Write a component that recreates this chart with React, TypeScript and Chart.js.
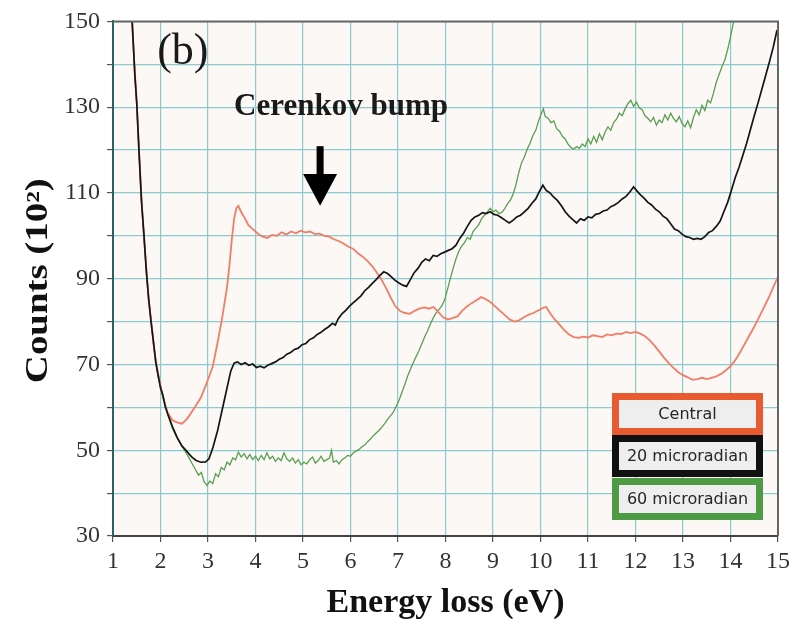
import React, { useEffect, useRef } from "react";
import { Chart, registerables } from "chart.js";

Chart.register(...registerables);

// ---------------- data ----------------
const seriesLabels = ["Central", "20 microradian", "60 microradian"];

const centralE = [
  1.38, 1.42, 1.46, 1.5, 1.55, 1.6, 1.65, 1.7, 1.75, 1.8, 1.85, 1.9, 1.95, 2.0, 2.05, 2.1, 2.15,
  2.25, 2.35, 2.45, 2.55, 2.65, 2.75, 2.85, 2.95, 3.05, 3.1, 3.2, 3.3, 3.4, 3.45, 3.5, 3.55, 3.6, 3.64,
  3.7, 3.78, 3.85, 3.95, 4.05, 4.15, 4.25, 4.35, 4.45, 4.55, 4.65, 4.75, 4.85, 4.95, 5.05, 5.15, 5.25,
  5.35, 5.45, 5.55, 5.65, 5.75, 5.85, 5.95, 6.05, 6.15, 6.25, 6.35, 6.45, 6.55, 6.65, 6.75, 6.85, 6.95,
  7.05, 7.15, 7.25, 7.35, 7.45, 7.55, 7.65, 7.75, 7.85, 7.95, 8.05, 8.15, 8.25, 8.35, 8.45, 8.55, 8.65,
  8.75, 8.85, 8.95, 9.05, 9.15, 9.25, 9.35, 9.45, 9.55, 9.65, 9.75, 9.85, 9.95, 10.05, 10.12, 10.2, 10.3,
  10.4, 10.5, 10.6, 10.7, 10.8, 10.9, 11.0, 11.1, 11.2, 11.3, 11.4, 11.5, 11.6, 11.7, 11.8, 11.9, 12.0,
  12.1, 12.2, 12.3, 12.4, 12.5, 12.6, 12.7, 12.8, 12.9, 13.0, 13.1, 13.2, 13.3, 13.4, 13.5, 13.6, 13.7,
  13.8, 13.9, 14.0, 14.1, 14.2, 14.3, 14.4, 14.5, 14.6, 14.7, 14.8, 14.9, 15.0,
];
const centralCounts = [
  155, 146, 138, 131, 119.5, 108.5, 100, 92.5, 85, 80.5, 75, 71, 67.8, 65, 62.5, 60.5, 58.8,
  57, 56.5, 56.2, 57.2, 58.8, 60.5, 62.3, 65, 68, 69.5, 75, 81, 88, 93, 99, 104, 106.5, 107,
  105.5, 104, 102.5, 101.5, 100.5, 99.8, 99.5, 100.2, 100, 100.8, 100.3, 101, 100.6, 101.2, 100.8, 101, 100.4,
  100.5, 100, 99.8, 99.2, 98.8, 98.2, 97.5, 97, 96, 95.2, 94.2, 93, 91.5, 89.8, 87.8, 85.5, 83.5,
  82.4, 82, 81.8, 82.5, 83, 83.3, 83, 83.4, 82.2, 81, 80.5, 80.8, 81.2, 82.5, 83.5, 84.3, 85,
  85.7, 85.2, 84.5, 83.5, 82.5, 81.5, 80.5, 80, 80.3, 81, 81.6, 82, 82.6, 83.2, 83.4, 82, 80.5,
  79.3, 78, 77, 76.4, 76.2, 76.5, 76.3, 76.8, 76.6, 76.4, 77, 76.8, 77.2, 77.1, 77.6, 77.3, 77.6,
  77.2, 76.6, 75.6, 74.4, 73, 71.6, 70.3, 69.2, 68.2, 67.5, 67, 66.4, 66.6, 66.9, 66.6, 66.9, 67.2,
  67.8, 68.6, 69.6, 71, 72.8, 74.8, 76.8, 78.8, 81, 83.2, 85.5, 88, 90.5,
];

const micro20E = [
  1.38, 1.42, 1.46, 1.5, 1.55, 1.6, 1.65, 1.7, 1.75, 1.8, 1.85, 1.9, 1.95, 2.0, 2.05, 2.1, 2.15,
  2.25, 2.35, 2.45, 2.55, 2.65, 2.75, 2.85, 2.95, 3.02, 3.1, 3.2, 3.3, 3.4, 3.48, 3.55, 3.62, 3.7, 3.78,
  3.86, 3.94, 4.02, 4.1, 4.18, 4.26, 4.34, 4.42, 4.5, 4.58, 4.66, 4.74, 4.82, 4.9, 4.98, 5.06, 5.14,
  5.22, 5.3, 5.38, 5.46, 5.54, 5.62, 5.68, 5.74, 5.82, 5.9, 5.98, 6.06, 6.14, 6.22, 6.3, 6.38, 6.46,
  6.54, 6.62, 6.7, 6.78, 6.86, 6.94, 7.02, 7.1, 7.18, 7.26, 7.34, 7.42, 7.5, 7.58, 7.66, 7.74, 7.82,
  7.9, 7.98, 8.06, 8.14, 8.22, 8.3, 8.38, 8.46, 8.54, 8.62, 8.7, 8.78, 8.86, 8.94, 9.02, 9.1, 9.18,
  9.26, 9.34, 9.42, 9.5, 9.58, 9.66, 9.74, 9.82, 9.9, 9.98, 10.05, 10.12, 10.2, 10.28, 10.36, 10.44,
  10.52, 10.6, 10.68, 10.76, 10.84, 10.92, 11.0, 11.08, 11.16, 11.24, 11.32, 11.4, 11.48, 11.56, 11.64,
  11.72, 11.8, 11.88, 11.96, 12.02, 12.1, 12.18, 12.26, 12.34, 12.42, 12.5, 12.58, 12.66, 12.74, 12.82,
  12.9, 12.98, 13.06, 13.14, 13.22, 13.3, 13.38, 13.46, 13.54, 13.62, 13.7, 13.78, 13.86, 13.94, 14.02,
  14.1, 14.18, 14.26, 14.34, 14.42, 14.5, 14.58, 14.66, 14.74, 14.82, 14.9, 14.98,
];
const micro20Counts = [
  155, 146.5, 137.5, 131, 119, 108, 100.5, 92, 85.5, 80, 75.5, 70.5, 67.5, 64.5, 62.8, 60.2, 58.5,
  55.5, 53, 51, 49.8, 48.5, 47.6, 47.2, 47.3, 48, 50.5, 54.5, 59.5, 64.5, 68.5, 70.3, 70.6, 70, 70.4,
  69.8, 70.1, 69.3, 69.6, 69.2, 69.8, 70.2, 70.6, 71.2, 71.6, 72.4, 72.8, 73.5, 73.8, 74.6, 74.9, 75.8,
  76.2, 77, 77.5, 78.2, 78.8, 79.6, 79.2, 80.6, 81.8, 82.6, 83.6, 84.4, 85.2, 86, 87.2, 88, 88.9,
  89.8, 90.8, 91.6, 91.2, 90.4, 89.6, 89, 88.5, 88.2, 89.8, 91.4, 92.4, 93.8, 94.6, 94.2, 95.4, 95.2,
  95.8, 96.2, 96.6, 97, 97.8, 99.4, 100.6, 102.2, 103.6, 104.4, 104.8, 105.4, 105.2, 105.6, 105, 104.8, 104.2,
  103.6, 103, 103.6, 104.4, 104.8, 105.6, 106.4, 107.6, 108.6, 110.4, 111.8, 110.6, 110, 109, 108.2, 107,
  105.6, 104.6, 103.8, 103, 104, 103.6, 104.4, 104.2, 105, 105.2, 105.8, 106, 106.8, 107.2, 107.8,
  108.6, 109.2, 110.2, 111.4, 110.6, 109.6, 108.8, 107.8, 107.2, 106.2, 105.6, 104.6, 104, 102.8, 101.6,
  101.2, 100.4, 99.8, 99.6, 99.2, 99.4, 99.2, 99.8, 100.8, 101.2, 102.2, 103.4, 105.6, 107.8, 110.6,
  113.6, 116, 118.8, 121.6, 124.8, 128, 131, 134.2, 137.4, 140.6, 144, 148,
];

const micro60E = [
  1.38, 1.42, 1.46, 1.5, 1.55, 1.6, 1.65, 1.7, 1.75, 1.8, 1.85, 1.9, 1.95, 2.0, 2.05, 2.1, 2.15,
  2.25, 2.35, 2.45, 2.55, 2.65, 2.72, 2.8, 2.86, 2.92, 2.98, 3.04, 3.1, 3.16, 3.22, 3.28, 3.34, 3.4,
  3.46, 3.52, 3.58, 3.64, 3.7, 3.76, 3.82, 3.88, 3.94, 4.0, 4.06, 4.12, 4.18, 4.24, 4.3, 4.36, 4.42,
  4.48, 4.54, 4.6, 4.66, 4.72, 4.78, 4.84, 4.9, 4.96, 5.02, 5.08, 5.14, 5.2, 5.26, 5.32, 5.38, 5.44,
  5.5, 5.56, 5.6, 5.64, 5.7, 5.76, 5.82, 5.88, 5.94, 6.0, 6.06, 6.12, 6.18, 6.24, 6.3, 6.36, 6.42,
  6.48, 6.54, 6.6, 6.66, 6.72, 6.78, 6.84, 6.9, 6.96, 7.02, 7.08, 7.14, 7.2, 7.26, 7.32, 7.38, 7.44,
  7.5, 7.56, 7.62, 7.68, 7.74, 7.8, 7.86, 7.92, 7.98, 8.04, 8.1, 8.16, 8.22, 8.28, 8.34, 8.4, 8.46,
  8.52, 8.58, 8.64, 8.7, 8.76, 8.82, 8.88, 8.94, 9.0, 9.06, 9.12, 9.18, 9.24, 9.3, 9.36, 9.42, 9.48,
  9.54, 9.6, 9.66, 9.72, 9.78, 9.84, 9.9, 9.96, 10.02, 10.06, 10.1, 10.16, 10.22, 10.28, 10.34, 10.4,
  10.46, 10.52, 10.58, 10.64, 10.7, 10.76, 10.82, 10.88, 10.94, 11.0, 11.06, 11.12, 11.18, 11.24, 11.3,
  11.36, 11.42, 11.48, 11.54, 11.6, 11.66, 11.72, 11.78, 11.84, 11.9, 11.96, 12.02, 12.08, 12.14, 12.2,
  12.26, 12.32, 12.38, 12.44, 12.5, 12.56, 12.62, 12.68, 12.74, 12.8, 12.86, 12.92, 12.98, 13.04, 13.1,
  13.16, 13.22, 13.28, 13.34, 13.4, 13.46, 13.52, 13.58, 13.64, 13.7, 13.76, 13.82, 13.88, 13.94, 14.0,
  14.06, 14.1,
];
const micro60Counts = [
  154.5, 146, 138, 130.5, 119.5, 108, 100, 92.5, 85, 80.5, 75, 71, 67, 65, 62.5, 60.5, 58.5,
  55.2, 52.8, 51, 49.2, 47.2, 45.8, 44.2, 44.8, 42.6, 41.8, 42.8, 42.2, 44.5, 43.8, 46, 45.4, 47.2,
  46.6, 48.2, 47.8, 49.6, 48.4, 49.2, 48, 49, 47.8, 48.6, 47.6, 48.8, 47.8, 49.4, 48, 48.6, 47.4,
  48.2, 47.6, 49.4, 48, 47.4, 48.2, 47, 47.8, 46.6, 47.2, 46.8, 47.8, 48.4, 47, 47.6, 48.6, 47.4,
  47.8, 48.2, 50, 47.2, 47.6, 46.8, 47.8, 48.2, 48.8, 48.6, 49.4, 49.8, 50.2, 50.8, 51.2, 52, 52.6,
  53.4, 54, 54.6, 55.4, 56.2, 57.2, 58, 58.8, 60.2, 61.6, 63.4, 65.2, 67.2, 68.8, 70.4, 71.8, 73.2,
  74.8, 76.4, 77.8, 79.4, 80.8, 82, 82.8, 83.6, 85, 87.4, 90, 92.4, 94.6, 96.4, 97.6, 98.4, 99.6,
  99.2, 101, 101.8, 102.6, 104, 104.8, 105.6, 106.4, 105.6, 106, 105.2, 105.4, 106.2, 107.4, 108.2, 109.6, 111.8,
  114.6, 117, 118.4, 120.2, 121.6, 123.4, 124.6, 126.8, 128.6, 129.6, 127.8, 127.4, 126.4, 126.8, 125, 124.4,
  123.2, 122.6, 121.4, 120.6, 120.2, 120.8, 120.4, 121.4, 120.8, 122.6, 121.4, 123.2, 121.8, 123.8, 122.4,
  124.2, 125.4, 124.6, 126.4, 127.2, 128.6, 128, 129.6, 130.8, 131.6, 130.2, 131.2, 129.8, 129.4, 128,
  127.4, 126.6, 127.6, 125.8, 127, 126.4, 128.2, 127, 128.6, 127.4, 126.6, 127.8, 126.2, 125.4, 126.8,
  125.2, 127.6, 129.4, 128.2, 130.4, 129.2, 131.6, 131, 133.2, 135.8, 137.6, 139.4, 141, 143.4, 146.4,
  149.6, 152,
];

const xMin = 1;
const xMax = 15;
const yMin = 30;
const yMax = 150;
const yLabelValues = [30, 50, 70, 90, 110, 130, 150];

const annotationLetter = "(b)";
const annotationText = "Cerenkov bump";
const xTitle = "Energy loss (eV)";
const yTitle = "Counts (10²)";

// ---------------- styles ----------------
const lineColors = ["#f27d66", "#151515", "#5a9e50"];
const legendColors = ["#e85a30", "#111111", "#4f9a45"];
const serif = "'Liberation Serif', 'Times New Roman', serif";

function toPoints(xs: number[], ys: number[]) {
  return xs.map((x, i) => ({ x, y: ys[i] }));
}

const decorPlugin = {
  id: "decor",
  beforeDraw(chart: any) {
    const { ctx, chartArea: a } = chart;
    ctx.save();
    ctx.fillStyle = "#fcf8f6";
    ctx.fillRect(a.left, a.top, a.right - a.left, a.bottom - a.top);
    ctx.restore();
  },
  afterDraw(chart: any) {
    const { ctx, chartArea: a, scales } = chart;
    const xs = scales.x;
    const ys = scales.y;
    ctx.save();
    // top & right frame
    ctx.strokeStyle = "#666";
    ctx.lineWidth = 2;
    ctx.beginPath();
    ctx.moveTo(a.left, a.top);
    ctx.lineTo(a.right, a.top);
    ctx.lineTo(a.right, a.bottom);
    ctx.stroke();

    // y-axis title (stretched along its length like the original)
    ctx.save();
    ctx.font = `bold 31px ${serif}`;
    ctx.fillStyle = "#111";
    ctx.textAlign = "center";
    ctx.textBaseline = "middle";
    const w = ctx.measureText(yTitle).width;
    const target = 205;
    ctx.translate(39, (a.top + a.bottom) / 2 + 2);
    ctx.rotate(-Math.PI / 2);
    ctx.scale(target / w, 1);
    ctx.fillText(yTitle, 0, 0);
    ctx.restore();

    // (b)
    ctx.fillStyle = "#1a1a1a";
    ctx.font = `44px ${serif}`;
    ctx.textAlign = "left";
    ctx.textBaseline = "alphabetic";
    ctx.fillText(annotationLetter, xs.getPixelForValue(1.93), ys.getPixelForValue(140));

    // Cerenkov bump
    ctx.font = `bold 31px ${serif}`;
    ctx.textAlign = "center";
    ctx.fillText(annotationText, xs.getPixelForValue(5.8), ys.getPixelForValue(128.1));

    // arrow
    const ax = xs.getPixelForValue(5.36);
    const yTop = ys.getPixelForValue(120.9);
    const yHead = ys.getPixelForValue(114.4);
    const yTip = ys.getPixelForValue(107);
    ctx.fillStyle = "#000";
    ctx.fillRect(ax - 3.5, yTop, 7, yHead - yTop + 2);
    ctx.beginPath();
    ctx.moveTo(ax - 17, yHead);
    ctx.lineTo(ax + 17, yHead);
    ctx.lineTo(ax, yTip);
    ctx.closePath();
    ctx.fill();

    // legend boxes
    const bw = 151;
    const bh = 42;
    const bx = a.right - 166;
    const tops = [a.bottom - 143, a.bottom - 101, a.bottom - 58];
    const bord = 7;
    ctx.font = "16px 'DejaVu Sans', sans-serif";
    ctx.textAlign = "center";
    ctx.textBaseline = "middle";
    seriesLabels.forEach((lab, i) => {
      const by = tops[i];
      ctx.fillStyle = legendColors[i];
      ctx.fillRect(bx, by, bw, bh);
      ctx.fillStyle = "#eeeeee";
      ctx.fillRect(bx + bord, by + bord, bw - 2 * bord, bh - 2 * bord);
      ctx.fillStyle = "#262626";
      ctx.fillText(lab, bx + bw / 2, by + bh / 2 + 1);
    });
    ctx.restore();
  },
};

export default function App() {
  const ref = useRef<HTMLCanvasElement | null>(null);

  useEffect(() => {
    document.body.style.margin = "0";
    const canvas = ref.current;
    if (!canvas) return;
    const chart = new Chart(canvas, {
      type: "line",
      data: {
        datasets: [
          {
            label: seriesLabels[0],
            data: toPoints(centralE, centralCounts),
            borderColor: lineColors[0],
            borderWidth: 1.8,
            pointRadius: 0,
            tension: 0,
            order: 1,
          },
          {
            label: seriesLabels[1],
            data: toPoints(micro20E, micro20Counts),
            borderColor: lineColors[1],
            borderWidth: 1.7,
            pointRadius: 0,
            tension: 0,
            order: 0,
          },
          {
            label: seriesLabels[2],
            data: toPoints(micro60E, micro60Counts),
            borderColor: lineColors[2],
            borderWidth: 1.3,
            pointRadius: 0,
            tension: 0,
            order: 2,
          },
        ],
      },
      options: {
        responsive: false,
        animation: false,
        events: [],
        layout: { padding: { top: 20, right: 18, left: 0, bottom: 0 } },
        plugins: { legend: { display: false }, tooltip: { enabled: false }, title: { display: false } },
        scales: {
          x: {
            type: "linear",
            min: xMin,
            max: xMax,
            afterFit: (s: any) => {
              s.height = 92;
            },
            ticks: {
              stepSize: 1,
              autoSkip: false,
              maxRotation: 0,
              padding: 5,
              color: "#333",
              font: { family: serif, size: 24 },
            },
            grid: { color: "#8ccbcd", lineWidth: 1.2, tickLength: 6, tickColor: "#555" },
            border: { color: "#444", width: 2 },
            title: {
              display: true,
              text: xTitle,
              color: "#111",
              font: { family: serif, size: 34, weight: "bold" },
              padding: { top: 0, bottom: 4 },
            },
          },
          y: {
            type: "linear",
            min: yMin,
            max: yMax,
            afterFit: (s: any) => {
              s.width = 113;
            },
            ticks: {
              stepSize: 10,
              autoSkip: false,
              padding: 7,
              color: "#333",
              font: { family: serif, size: 24 },
              callback: (v: any) => (yLabelValues.includes(Number(v)) ? String(v) : ""),
            },
            grid: { color: "#8ccbcd", lineWidth: 1.2, tickLength: 6, tickColor: "#555" },
            border: { color: "#2c6262", width: 2 },
            title: { display: false, text: yTitle },
          },
        },
      },
      plugins: [decorPlugin],
    } as any);
    return () => chart.destroy();
  }, []);

  return (
    <div style={{ width: 796, height: 628, background: "#fff" }}>
      <canvas ref={ref} width={796} height={628} style={{ display: "block" }} />
    </div>
  );
}
